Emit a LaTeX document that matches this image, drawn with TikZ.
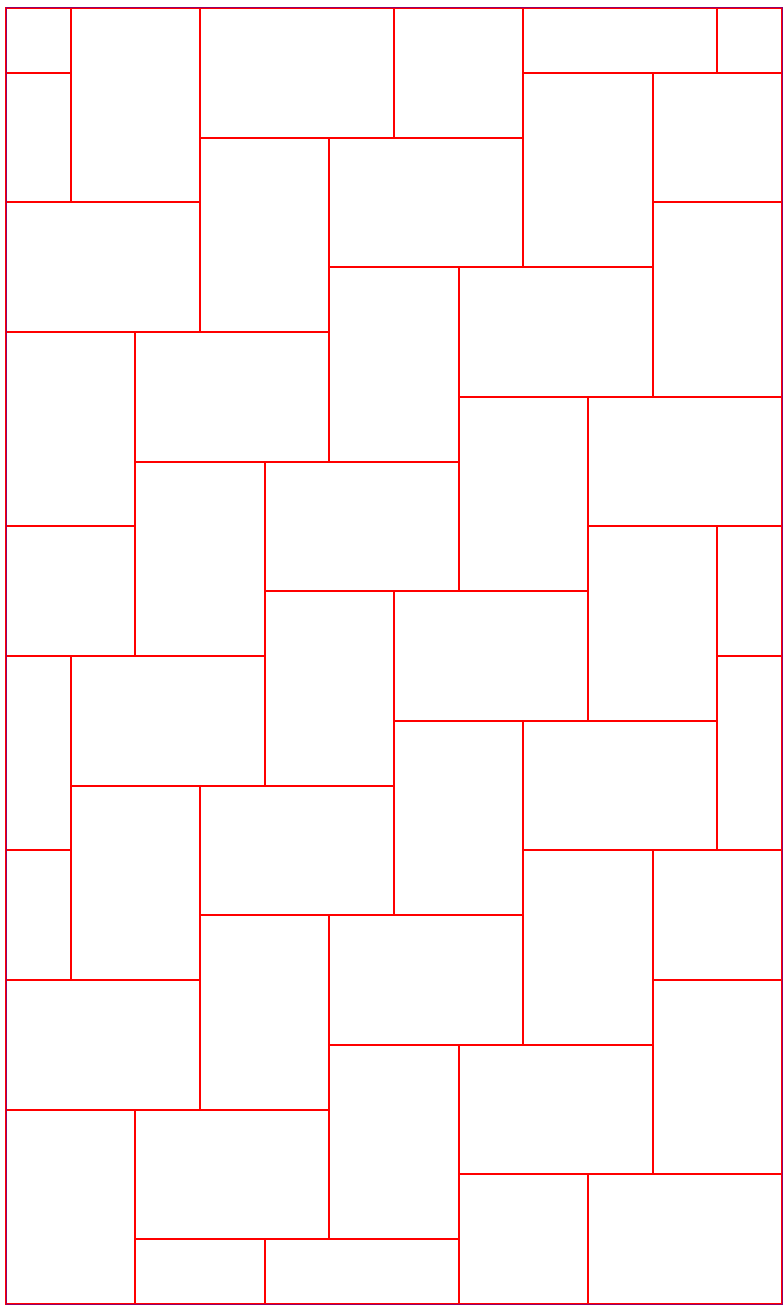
\documentclass[tikz,border=0pt]{standalone}
\begin{document}
\begin{tikzpicture}[x=64.67bp,y=-64.8bp,
  tile/.style={draw=red,line width=2bp},
  frame/.style={draw=blue!70!red,line width=1bp,opacity=0.6}]
\path[use as bounding box] (-0.0928,-0.1235) rectangle (12.0155,20.0926);
\foreach \a/\b/\c/\d in {
 0/0/1/1, 0/1/1/3, 1/0/3/3, 3/0/6/2, 6/0/8/2, 8/0/11/1, 11/0/12/1,
 8/1/10/4, 10/1/12/3, 3/2/5/5, 5/2/8/4, 0/3/3/5, 10/3/12/6,
 5/4/7/7, 7/4/10/6, 0/5/2/8, 2/5/5/7, 7/6/9/9, 9/6/12/8,
 2/7/4/10, 4/7/7/9, 0/8/2/10, 9/8/11/11, 11/8/12/10,
 4/9/6/12, 6/9/9/11, 0/10/1/13, 1/10/4/12, 11/10/12/13,
 6/11/8/14, 8/11/11/13, 1/12/3/15, 3/12/6/14, 0/13/1/15,
 8/13/10/16, 10/13/12/15, 3/14/5/17, 5/14/8/16, 0/15/3/17,
 10/15/12/18, 5/16/7/19, 7/16/10/18, 0/17/2/20, 2/17/5/19,
 7/18/9/20, 9/18/12/20, 2/19/4/20, 4/19/7/20}
 \draw[tile] (\a,\b) rectangle (\c,\d);
\draw[frame] (0,0) rectangle (12,20);
\end{tikzpicture}
\end{document}
